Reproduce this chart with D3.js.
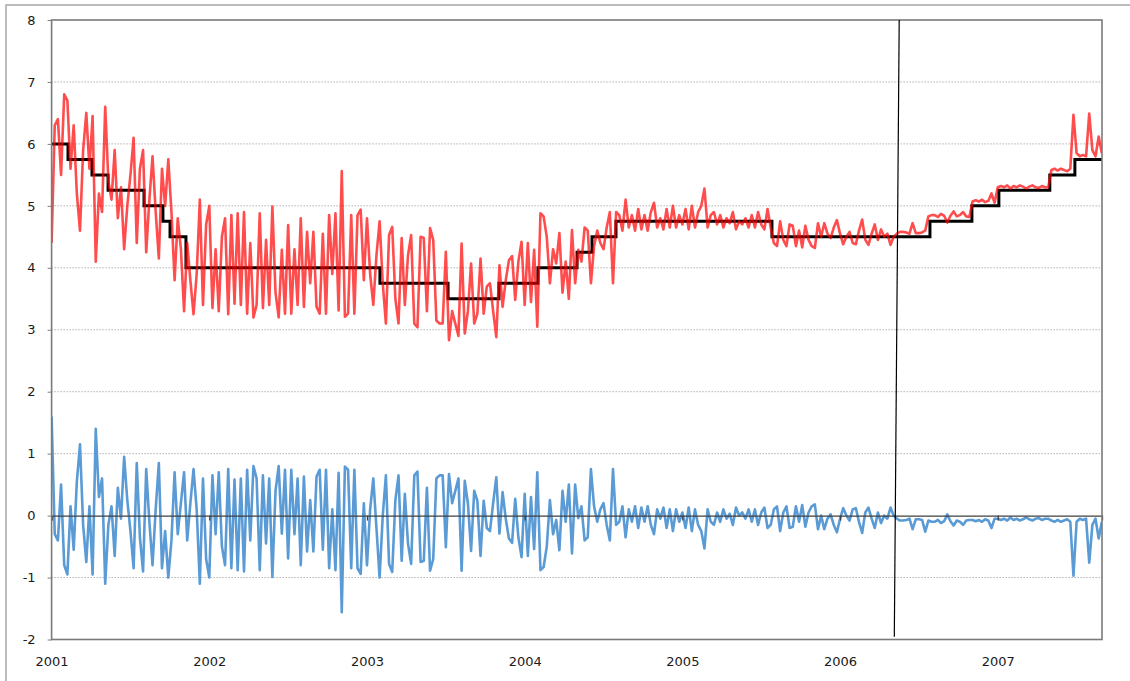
<!DOCTYPE html>
<html><head><meta charset="utf-8">
<script src="https://cdn.jsdelivr.net/npm/d3@7"></script>
<style>
html,body{margin:0;padding:0;background:#fff;}
svg{display:block;font-family:"DejaVu Sans",Verdana,sans-serif;}
</style></head><body>
<svg id="chart" width="1130" height="681"></svg>
<script>
// ---------- data ----------
const years = [2001, 2002, 2003, 2004, 2005, 2006, 2007];
const yTicks = [-2, -1, 0, 1, 2, 3, 4, 5, 6, 7, 8];
const gridValues = [-1, 1, 2, 3, 4, 5, 6, 7];
const sampleStep = 0.02; // years between readings

// market rate (red)
const red2001 = [4.4,6.3,6.4,5.5,6.8,6.7,5.6,6.3,5.2,4.6,5.9,6.5,5.6,6.45,4.1,5.2,4.9,6.6,5.4,5.1,5.9,4.8,5.3,4.3,5.0,5.5,6.1,4.4,5.6,5.9,4.25,5.1,5.8,4.9,4.15,5.6,5.0,5.75,4.9,3.8,4.8,4.3,3.3,4.4,3.8,3.25,3.9,5.1,3.4,4.7];
const red2002 = [5.0,3.35,4.3,3.3,4.5,4.8,3.25,4.85,3.42,4.88,3.4,4.9,3.26,4.4,3.2,3.4,4.88,3.35,4.45,3.4,4.99,3.6,3.2,4.29,3.26,4.69,3.26,4.3,3.4,4.8,3.37,4.58,3.75,4.58,3.37,3.26,4.55,3.26,4.85,3.9,4.88,3.31,5.56,3.21,3.26,4.85,3.26,4.85,4.94,3.8];
const red2003 = [4.8,3.9,3.4,4.2,4.75,3.75,3.1,4.53,4.66,3.5,3.1,4.48,3.4,4.2,4.53,3.1,3.04,4.5,4.48,3.3,4.64,4.45,3.15,3.1,3.1,4.26,2.83,3.3,3.1,2.9,4.39,2.94,3.3,4.07,3.1,3.26,4.15,3.26,3.7,3.75,3.3,2.88,4.04,3.37,3.8,4.12,4.19,3.48,4.1,4.42];
const red2004 = [3.4,4.4,3.45,4.29,3.05,4.88,4.83,4.5,3.75,4.3,4.07,4.56,3.6,4.1,3.5,4.61,3.75,4.29,4.1,4.65,4.6,3.75,4.35,4.6,4.4,4.3,4.65,4.9,3.75,4.9,4.85,4.6,5.1,4.65,4.85,4.6,4.95,4.62,4.85,4.6,4.9,5.05,4.65,4.8,4.62,4.95,4.65,5.0,4.65,4.85];
const red2005 = [4.7,4.95,4.62,5.0,4.65,4.9,5.0,5.28,4.65,4.85,4.9,4.7,4.85,4.65,4.8,4.72,4.9,4.62,4.75,4.7,4.8,4.65,4.85,4.65,4.9,4.7,4.62,4.95,4.65,4.4,4.35,4.75,4.45,4.35,4.7,4.68,4.35,4.6,4.33,4.68,4.45,4.35,4.32,4.72,4.5,4.72,4.55,4.48,4.65,4.77];
const red2006 = [4.55,4.38,4.5,4.58,4.4,4.38,4.6,4.78,4.45,4.37,4.55,4.7,4.45,4.62,4.5,4.55,4.37,4.5,4.55,4.58,4.58,4.57,4.55,4.72,4.56,4.56,4.57,4.6,4.83,4.85,4.85,4.82,4.87,4.84,4.73,4.84,4.91,4.83,4.85,4.9,4.83,4.82,5.07,5.09,5.07,5.1,5.06,5.08,5.2,5.05];
const red2007 = [5.3,5.32,5.3,5.33,5.28,5.32,5.3,5.33,5.31,5.28,5.31,5.33,5.3,5.29,5.32,5.3,5.3,5.58,5.6,5.57,5.6,5.58,5.56,5.6,6.47,5.85,5.8,5.82,5.8,6.49,5.9,5.8,6.12,5.85];

// spread (blue)
const blue2001 = [1.6,-0.3,-0.4,0.5,-0.8,-0.95,0.15,-0.55,0.55,1.15,-0.15,-0.75,0.15,-0.95,1.4,0.3,0.6,-1.1,-0.15,0.15,-0.65,0.45,-0.05,0.95,0.25,-0.25,-0.85,0.85,-0.35,-0.9,0.75,-0.1,-0.8,0.1,0.85,-0.85,-0.25,-1.0,-0.4,0.7,-0.3,0.2,0.7,-0.4,0.2,0.75,0.1,-1.1,0.6,-0.7];
const blue2002 = [-1.0,0.65,-0.3,0.7,-0.5,-0.8,0.75,-0.85,0.58,-0.88,0.6,-0.9,0.74,-0.4,0.8,0.6,-0.88,0.65,-0.45,0.6,-0.99,0.4,0.8,-0.29,0.74,-0.69,0.74,-0.3,0.6,-0.8,0.63,-0.58,0.25,-0.58,0.63,0.74,-0.55,0.74,-0.85,0.1,-0.88,0.69,-1.56,0.79,0.74,-0.85,0.74,-0.85,-0.94,0.2];
const blue2003 = [-0.8,0.1,0.6,-0.2,-1.0,0.0,0.65,-0.78,-0.91,0.25,0.65,-0.73,0.35,-0.45,-0.78,0.65,0.71,-0.75,-0.73,0.45,-0.89,-0.7,0.6,0.65,0.65,-0.51,0.67,0.2,0.4,0.6,-0.89,0.56,0.2,-0.57,0.4,0.24,-0.65,0.24,-0.2,-0.25,0.2,0.62,-0.29,0.38,-0.05,-0.37,-0.44,0.27,-0.35,-0.67];
const blue2004 = [0.35,-0.65,0.3,-0.54,0.7,-0.88,-0.83,-0.5,0.25,-0.3,-0.07,-0.56,0.4,-0.1,0.5,-0.61,0.5,-0.04,0.15,-0.4,-0.35,0.75,0.15,-0.1,0.1,0.2,-0.15,-0.4,0.75,-0.15,-0.1,0.15,-0.35,0.1,-0.1,0.15,-0.2,0.13,-0.1,0.15,-0.15,-0.3,0.1,-0.05,0.13,-0.2,0.1,-0.25,0.1,-0.1];
const blue2005 = [0.05,-0.2,0.13,-0.25,0.1,-0.15,-0.25,-0.53,0.1,-0.1,-0.15,0.05,-0.1,0.1,-0.05,0.03,-0.15,0.13,0.0,0.05,-0.05,0.1,-0.1,0.1,-0.15,0.05,0.13,-0.2,-0.15,0.1,0.15,-0.25,0.05,0.15,-0.2,-0.18,0.15,-0.1,0.17,-0.18,0.05,0.15,0.18,-0.22,0.0,-0.22,-0.05,0.02,-0.15,-0.27];
const blue2006 = [-0.05,0.12,0.0,-0.08,0.1,0.12,-0.1,-0.28,0.05,0.13,-0.05,-0.2,0.05,-0.12,0.0,-0.05,0.13,0.0,-0.05,-0.08,-0.08,-0.07,-0.05,-0.22,-0.06,-0.06,-0.07,-0.26,-0.08,-0.1,-0.1,-0.07,-0.12,-0.09,0.02,-0.09,-0.16,-0.08,-0.1,-0.15,-0.08,-0.07,-0.07,-0.09,-0.07,-0.1,-0.06,-0.08,-0.2,-0.05];
const blue2007 = [-0.05,-0.07,-0.05,-0.08,-0.03,-0.07,-0.05,-0.08,-0.06,-0.03,-0.06,-0.08,-0.05,-0.04,-0.07,-0.05,-0.05,-0.08,-0.1,-0.07,-0.1,-0.08,-0.06,-0.1,-0.97,-0.1,-0.05,-0.07,-0.05,-0.76,-0.15,-0.05,-0.37,-0.1];

// policy rate (black step)
const policyDates = [2001.0,2001.104,2001.256,2001.358,2001.586,2001.706,2001.751,2001.852,2003.082,2003.514,2003.837,2004.084,2004.332,2004.427,2004.579,2005.568,2006.570,2006.836,2007.007,2007.330,2007.489];
const policyRates = [6.0,5.75,5.5,5.25,5.0,4.75,4.5,4.0,3.75,3.5,3.75,4.0,4.25,4.5,4.75,4.5,4.75,5.0,5.25,5.5,5.75];

// vertical marker line
const markerX = [2006.375, 2006.344];
const markerY = [8, -1.955];

const xDomain = [2001, 2007.661];
const yDomain = [-2, 8];

// ---------- drawing ----------
const svg = d3.select("#chart");
const L = 51.6, R = 1102, T = 20, B = 639.5;
const x = d3.scaleLinear().domain(xDomain).range([L, R]);
const y = d3.scaleLinear().domain(yDomain).range([B, T]);

const redByYear = [red2001, red2002, red2003, red2004, red2005, red2006, red2007];
const blueByYear = [blue2001, blue2002, blue2003, blue2004, blue2005, blue2006, blue2007];
const toPts = arrs => arrs.flatMap((arr, k) => arr.map((v, i) => ({t: years[k] + i * sampleStep, v})));
const redPts = toPts(redByYear);
const bluePts = toPts(blueByYear);
const stepPts = policyDates.map((t, i) => ({t, v: policyRates[i]}));
stepPts.push({t: xDomain[1], v: policyRates[policyRates.length - 1]});

// outer frame
svg.append("rect").attr("x", 6).attr("y", 5).attr("width", 1140).attr("height", 690)
  .attr("fill", "none").attr("stroke", "#a6a6a6").attr("stroke-width", 1.5);

svg.append("clipPath").attr("id", "plotclip").append("rect")
  .attr("x", L).attr("y", T).attr("width", R - L).attr("height", B - T);

// gridlines
svg.append("g").selectAll("line").data(gridValues).join("line")
  .attr("x1", L).attr("x2", R).attr("y1", d => y(d)).attr("y2", d => y(d))
  .attr("stroke", "#8c8c8c").attr("stroke-width", 1).attr("stroke-dasharray", "1,2");

const plot = svg.append("g").attr("clip-path", "url(#plotclip)");
const line = d3.line().x(d => x(d.t)).y(d => y(d.v));

plot.append("path").datum(stepPts)
  .attr("d", d3.line().x(d => x(d.t)).y(d => y(d.v)).curve(d3.curveStepAfter))
  .attr("fill", "none").attr("stroke", "#000").attr("stroke-width", 3);

plot.append("path").datum(redPts).attr("d", line)
  .attr("fill", "none").attr("stroke", "#ff0000").attr("stroke-opacity", 0.7)
  .attr("stroke-width", 2.6).attr("stroke-linejoin", "round");

plot.append("path").datum(bluePts).attr("d", line)
  .attr("fill", "none").attr("stroke", "#5b9bd5")
  .attr("stroke-width", 2.6).attr("stroke-linejoin", "round");

// zero axis with year ticks
const zeroAxis = svg.append("g").attr("transform", `translate(0,${y(0)})`)
  .call(d3.axisBottom(x).tickValues(years).tickSize(5).tickFormat(""));
zeroAxis.select(".domain").attr("stroke", "#404040").attr("stroke-width", 1.3);
zeroAxis.selectAll(".tick line").attr("stroke", "#404040").attr("stroke-width", 1.3);

// year labels at bottom
const xLab = svg.append("g").attr("transform", `translate(0,${B})`)
  .call(d3.axisBottom(x).tickValues(years).tickSize(0).tickPadding(17).tickFormat(d => String(d)));
xLab.select(".domain").remove();
xLab.selectAll("text").attr("font-size", 13).attr("fill", "#1a1a1a")
  .attr("font-family", "DejaVu Sans, Verdana, sans-serif");

// y axis
const yAx = svg.append("g").attr("transform", `translate(${L},0)`)
  .call(d3.axisLeft(y).tickValues(yTicks).tickSize(4).tickPadding(12).tickFormat(d => String(d)));
yAx.select(".domain").remove();
yAx.selectAll(".tick line").attr("stroke", "#7f7f7f");
yAx.selectAll("text").attr("font-size", 13).attr("fill", "#1a1a1a")
  .attr("font-family", "DejaVu Sans, Verdana, sans-serif");

// plot frame
svg.append("rect").attr("x", L).attr("y", T).attr("width", R - L).attr("height", B - T)
  .attr("fill", "none").attr("stroke", "#7a7a7a").attr("stroke-width", 1.6);

// marker line
svg.append("line")
  .attr("x1", x(markerX[0])).attr("y1", y(markerY[0]))
  .attr("x2", x(markerX[1])).attr("y2", y(markerY[1]))
  .attr("stroke", "#000").attr("stroke-width", 1.2);
</script>
</body></html>
